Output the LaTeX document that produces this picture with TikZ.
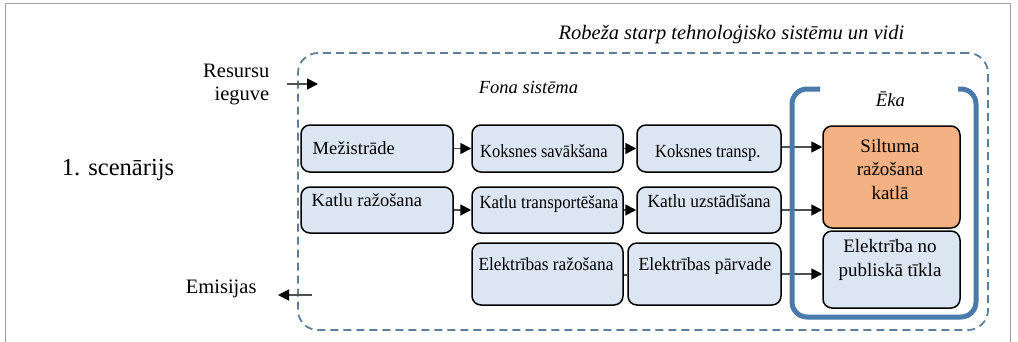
\documentclass[tikz,border=0pt]{standalone}
\usepackage{fontspec}
\setmainfont{Liberation Serif}
\usepackage{graphicx}
\usetikzlibrary{arrows.meta}
\definecolor{boxfill}{HTML}{DCE6F2}
\definecolor{orangefill}{HTML}{F4B183}
\definecolor{ekablue}{HTML}{4A7AAB}
\definecolor{dashblue}{HTML}{5E7E9C}
\definecolor{framegray}{HTML}{A0A0A0}
\definecolor{arrgray}{HTML}{505050}
\begin{document}
\begin{tikzpicture}[x=1pt,y=-1pt,
  box/.style={draw=black, line width=1.5pt, rounded corners=9pt, fill=boxfill, inner sep=0pt},
  obox/.style={box, fill=orangefill},
  txt/.style={inner sep=0pt, anchor=base west, font=\fontsize{18.5}{22}\selectfont},
  mtxt/.style={inner sep=0pt, anchor=base, align=center, font=\fontsize{19}{23.3}\selectfont},
  bnd/.style={draw=dashblue, line width=1.8pt, dash pattern=on 8pt off 5pt, rounded corners=20pt, inner sep=0pt},
  arr/.style={draw=arrgray, line width=1.8pt, -{Triangle[length=11pt,width=11pt,fill=black,color=black]}},
  plain/.style={draw=arrgray, line width=1.5pt}
]
\useasboundingbox (0,0) rectangle (1018,341);
\draw[framegray, line width=1.3pt] (5.5,360) -- (5.5,3.5) -- (1010.5,3.5) -- (1010.5,360);

% system boundary
\node[bnd, minimum width=690pt, minimum height=277pt] (sys) at (643,191.5) {};

% boxes
\node[box, minimum width=152pt, minimum height=47pt] (mez) at (377,148.5) {};
\node[box, minimum width=152pt, minimum height=46pt] (kr)  at (377,210) {};
\node[box, minimum width=151pt, minimum height=47pt] (ks)  at (547.5,148.5) {};
\node[box, minimum width=151pt, minimum height=46pt] (kt)  at (547.5,210) {};
\node[box, minimum width=151pt, minimum height=62pt] (er)  at (547.5,274) {};
\node[box, minimum width=144pt, minimum height=47pt] (kts) at (709,148.5) {};
\node[box, minimum width=144pt, minimum height=46pt] (ku)  at (709,210) {};
\node[box, minimum width=153pt, minimum height=62pt] (ep)  at (704.5,274) {};
\node[obox, minimum width=137pt, minimum height=102pt] (sil) at (891.5,177) {};
\node[box, minimum width=137pt, minimum height=77pt] (ept) at (891.5,269.5) {};

% box texts
\node[txt] (mezT) at (312.5,154) {Mežistrāde};
\node[txt] (krT)  at (311.5,206.5) {Katlu ražošana};
\node[txt] (ksT)  at (480,157) {\scalebox{0.89}[1]{Koksnes savākšana}};
\node[txt] (ktT)  at (479.3,208) {\scalebox{0.91}[1]{Katlu transportēšana}};
\node[txt] (erT)  at (478.3,270) {\scalebox{0.935}[1]{Elektrības ražošana}};
\node[txt] (ktsT) at (655,157) {\scalebox{0.89}[1]{Koksnes transp.}};
\node[txt] (kuT)  at (647.3,207.5) {\scalebox{0.94}[1]{Katlu uzstādīšana}};
\node[txt] (epT)  at (638.3,270) {\scalebox{0.96}[1]{Elektrības pārvade}};
\node[mtxt] (silT) at (890,199) {Siltuma\\ražošana\\katlā};
\node[mtxt] (eptT) at (890,276) {Elektrība no\\publiskā tīkla};

% connectors
\draw[arr] (mez.east) -- (ks.west);
\draw[arr] (ks.east) -- (kts.west);
\draw[arr] ([yshift=1.5pt]kts.east) -- ([yshift=1.5pt]kts.east -| sil.west);
\draw[arr] (kr.east) -- (kt.west);
\draw[arr] (kt.east) -- (ku.east -| ku.west);
\draw[arr] (ku.east) -- (ku.east -| sil.west);
\draw[plain] ([yshift=-1pt]er.east) -- ([yshift=-1pt]er.east -| ep.west);
\draw[arr] (ep.east) -- (ep.east -| ept.west);

% building (open at top)
\draw[ekablue, line width=5pt, rounded corners=15pt] (820,89) -- (792,89) -- (792,317) -- (976,317) -- (976,89) -- (958,89);

% inputs / outputs
\coordinate (rin1) at (287,84);
\coordinate (rin2) at (318,84);
\coordinate (em1) at (312,295);
\coordinate (em2) at (278,295);
\draw[arr] (rin1) -- (rin2);
\draw[arr] (em1) -- (em2);

% labels
\node[inner sep=0pt, anchor=base east, align=right, font=\fontsize{20.5}{23}\selectfont] (res) at (269.5,100) {Resursu\\ieguve};
\node[inner sep=0pt, anchor=base west, font=\fontsize{20.5}{24}\selectfont] (emi) at (185.7,293) {Emisijas};
\node[inner sep=0pt, anchor=base west, font=\fontsize{24.5}{28}\selectfont] (scen) at (61.7,175.5) {1. scenārijs};
\node[inner sep=0pt, anchor=base, font=\fontsize{20.5}{24}\selectfont\itshape] (rob) at (731.5,39.5) {Robeža starp tehnoloģisko sistēmu un vidi};
\node[inner sep=0pt, anchor=base, font=\fontsize{18.5}{22}\selectfont\itshape] (fona) at (528.5,93) {Fona sistēma};
\node[inner sep=0pt, anchor=base, font=\fontsize{18.7}{22}\selectfont\itshape] (eka) at (890.5,106.5) {Ēka};
\end{tikzpicture}
\end{document}
